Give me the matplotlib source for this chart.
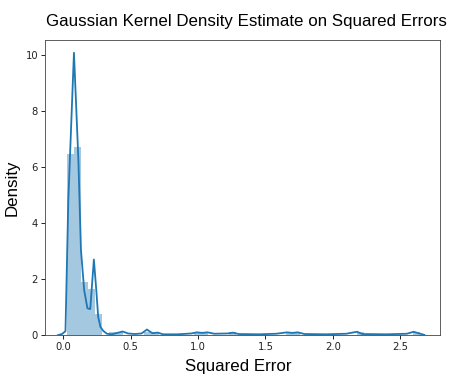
import numpy as np
import matplotlib
matplotlib.use("Agg")
import matplotlib.pyplot as plt

# histogram: 50 bins, density heights
bin_start = 0.024
bin_width = 0.0525
bin_heights = [6.48, 6.73, 1.90, 1.65, 0.76, 0.0, 0.1, 0.1, 0.0, 0.0,
               0.0, 0.12, 0.1, 0.0, 0.0, 0.0, 0.0, 0.0, 0.1, 0.1,
               0.0, 0.0, 0.0, 0.1, 0.0, 0.0, 0.0, 0.0, 0.0, 0.0,
               0.0, 0.1, 0.1, 0.0, 0.0, 0.0, 0.0, 0.0, 0.0, 0.0,
               0.0, 0.1, 0.0, 0.0, 0.0, 0.0, 0.0, 0.0, 0.0, 0.1]

# kde curve vertices
kde_x = [-0.041, -0.011, 0.015, 0.036, 0.078, 0.111, 0.130, 0.154, 0.178, 0.199,
         0.226, 0.244, 0.258, 0.275, 0.296, 0.323, 0.36, 0.40, 0.44, 0.48,
         0.53, 0.58, 0.62, 0.66, 0.70, 0.74, 0.85, 0.95, 0.99, 1.03,
         1.07, 1.12, 1.22, 1.26, 1.30, 1.45, 1.58, 1.66, 1.70, 1.74,
         1.79, 1.95, 2.10, 2.18, 2.22, 2.40, 2.55, 2.60, 2.65, 2.68]
kde_y = [0.0, 0.04, 0.14, 4.8, 10.08, 6.25, 3.04, 1.6, 0.96, 0.93,
         2.7, 1.6, 0.65, 0.29, 0.15, 0.05, 0.03, 0.08, 0.13, 0.06,
         0.04, 0.06, 0.2, 0.07, 0.09, 0.03, 0.03, 0.06, 0.1, 0.08,
         0.1, 0.05, 0.06, 0.09, 0.04, 0.03, 0.05, 0.1, 0.08, 0.1,
         0.04, 0.03, 0.05, 0.12, 0.04, 0.03, 0.05, 0.12, 0.05, 0.01]

fig = plt.figure(figsize=(4.62, 3.87), dpi=100)
ax = fig.add_axes([0.0974, 0.134, 0.8546, 0.763])

edges = bin_start + bin_width * np.arange(len(bin_heights))
ax.bar(edges, bin_heights, width=bin_width, align="edge",
       color="#1f77b4", alpha=0.4, linewidth=0)
ax.plot(kde_x, kde_y, color="#1f77b4", linewidth=1.3)

ax.set_xlim(-0.137, 2.795)
ax.set_ylim(0, 10.54)
ax.set_xticks([0.0, 0.5, 1.0, 1.5, 2.0, 2.5])
ax.set_yticks([0, 2, 4, 6, 8, 10])
ax.tick_params(labelsize=7.2, length=2.8, width=0.6, pad=2.2, labelcolor="#222222")
for s in ax.spines.values():
    s.set_linewidth(0.6)
    s.set_color("#444444")

lab = dict(family="Liberation Sans", fontsize=12.2)
ax.set_title("Gaussian Kernel Density Estimate on Squared Errors", pad=10, x=0.51, **lab)
ax.set_xlabel("Squared Error", labelpad=5, x=0.49, **lab)
ax.set_ylabel("Density", labelpad=4, **lab)

fig.savefig("out.png", dpi=100)
